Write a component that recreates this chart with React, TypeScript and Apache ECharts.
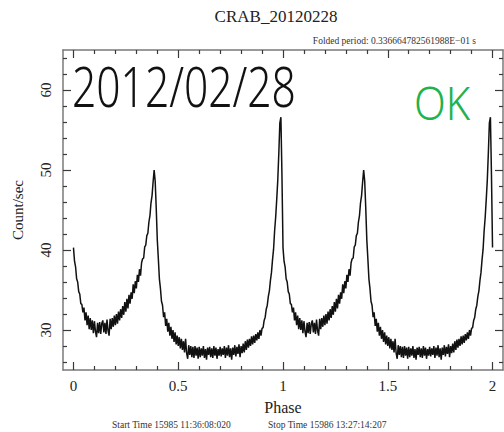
import React, { useEffect, useRef } from "react";
import * as echarts from "echarts";

// Folded light curve (one cycle, 200 phase bins), count/sec
const profile: number[] = [
  40.3, 38.6, 37.9, 36.4, 36.0, 34.8, 34.5, 33.3, 33.2, 32.2,
  32.8, 31.2, 32.2, 30.6, 31.8, 30.1, 31.5, 30.0, 31.2, 29.6,
  31.1, 29.8, 29.1, 30.9, 29.6, 31.0, 29.5, 30.8, 31.2, 29.7,
  30.9, 29.5, 31.3, 29.9, 29.3, 31.4, 30.1, 31.5, 30.4, 31.8,
  30.6, 32.0, 30.8, 32.3, 31.2, 32.6, 31.5, 33.0, 31.9, 33.5,
  32.3, 33.9, 32.7, 34.4, 33.3, 34.7, 33.9, 35.7, 34.6, 36.1,
  35.2, 36.9, 36.0, 37.6, 36.8, 38.4, 38.9, 39.0, 40.4, 40.6,
  41.8, 42.1, 43.5, 44.3, 45.9, 46.8, 48.5, 50.0, 48.6, 45.2,
  41.3, 38.9, 36.4, 35.2, 33.6, 33.1, 31.6, 32.2, 30.5, 31.4,
  29.8, 30.9, 29.3, 30.4, 28.9, 30.0, 28.5, 29.7, 28.2, 29.3,
  28.0, 29.1, 27.7, 28.9, 27.5, 28.6, 27.2, 28.9, 27.1, 26.4,
  28.1, 26.9, 28.0, 26.6, 27.9, 26.5, 28.0, 26.8, 27.8, 26.4,
  27.9, 26.6, 27.7, 26.8, 28.0, 26.5, 27.6, 26.3, 27.8, 26.9,
  27.9, 26.6, 27.7, 26.5, 28.0, 26.8, 27.8, 26.4, 27.6, 26.8,
  27.9, 26.7, 27.7, 26.9, 28.0, 26.5, 27.8, 26.8, 28.1, 26.6,
  27.7, 26.3, 27.8, 26.9, 28.1, 26.7, 27.9, 27.0, 28.2, 26.6,
  28.0, 27.1, 28.3, 27.2, 28.6, 27.5, 28.8, 27.8, 28.9, 28.0,
  29.2, 28.2, 29.3, 28.4, 29.5, 28.7, 29.7, 28.9, 30.0, 29.3,
  30.2, 30.3, 31.2, 31.6, 32.6, 33.1, 34.2, 34.9, 36.2, 37.2,
  38.8, 40.1, 42.4, 44.1, 46.3, 48.7, 52.1, 55.9, 56.6, 49.3,
];
const cycles = 2;

const xMajorTicks = [0, 0.5, 1, 1.5, 2];
const xMinorTicks = [0.1, 0.2, 0.3, 0.4, 0.6, 0.7, 0.8, 0.9, 1.1, 1.2, 1.3, 1.4, 1.6, 1.7, 1.8, 1.9];
const yMajorTicks = [30, 40, 50, 60];
const yMinorTicks = [26, 28, 32, 34, 36, 38, 42, 44, 46, 48, 52, 54, 56, 58, 62, 64];

const titleText = "CRAB_20120228";
const periodText = "Folded period: 0.336664782561988E\u221201 s";
const startText = "Start Time 15985 11:36:08:020";
const stopText = "Stop Time 15986 13:27:14:207";
const dateText = "2012/02/28";
const statusText = "OK";

const SERIF = "'Liberation Serif', 'DejaVu Serif', serif";
const AXIS_COLOR = "#7a7a7a";
const TICK_COLOR = "#3a3a3a";

function xAxisDef(position: string, ticks: number[], len: number, showLine: boolean, showLabel: boolean, name?: string) {
  return {
    type: "value",
    gridIndex: 0,
    position,
    min: -0.05,
    max: 2.05,
    name: name || "",
    nameLocation: "middle",
    nameGap: 29,
    nameTextStyle: { fontFamily: SERIF, fontSize: 16, color: "#222" },
    axisLine: { show: showLine, onZero: false, lineStyle: { color: AXIS_COLOR, width: 1.5 } },
    axisTick: { show: true, inside: true, length: len, customValues: ticks, lineStyle: { color: TICK_COLOR, width: 1.2 } },
    axisLabel: {
      show: showLabel,
      customValues: ticks,
      margin: 8,
      fontFamily: SERIF,
      fontSize: 15,
      color: "#222",
      formatter: (v: number) => String(v),
    },
    splitLine: { show: false },
  };
}

function yAxisDef(position: string, ticks: number[], len: number, showLine: boolean, showLabel: boolean, name?: string) {
  return {
    type: "value",
    gridIndex: 0,
    position,
    min: 25,
    max: 65,
    name: name || "",
    nameLocation: "middle",
    nameGap: 38,
    nameTextStyle: { fontFamily: SERIF, fontSize: 15, color: "#222" },
    axisLine: { show: showLine, onZero: false, lineStyle: { color: AXIS_COLOR, width: 1.5 } },
    axisTick: { show: true, inside: true, length: len, customValues: ticks, lineStyle: { color: TICK_COLOR, width: 1.2 } },
    axisLabel: {
      show: showLabel,
      customValues: ticks,
      rotate: 90,
      margin: 10,
      fontFamily: SERIF,
      fontSize: 15,
      color: "#222",
      formatter: (v: number) => String(v),
    },
    splitLine: { show: false },
  };
}

export default function App() {
  const ref = useRef<HTMLDivElement>(null);

  useEffect(() => {
    if (!ref.current) return;
    const chart = echarts.init(ref.current, null, { renderer: "svg" });

    const data: [number, number][] = [];
    for (let c = 0; c < cycles; c++) {
      for (let i = 0; i < profile.length; i++) {
        data.push([c + i / profile.length, profile[i]]);
      }
    }
    data.push([cycles, profile[0]]);

    chart.setOption({
      animation: false,
      backgroundColor: "#ffffff",
      grid: { left: 63, top: 50, width: 440, height: 320, containLabel: false },
      xAxis: [
        xAxisDef("bottom", xMajorTicks, 8, true, true, "Phase"),
        xAxisDef("bottom", xMinorTicks, 4, false, false),
        xAxisDef("top", xMajorTicks, 8, true, false),
        xAxisDef("top", xMinorTicks, 4, false, false),
      ],
      yAxis: [
        yAxisDef("left", yMajorTicks, 8, true, true, "Count/sec"),
        yAxisDef("left", yMinorTicks, 4, false, false),
        yAxisDef("right", yMajorTicks, 8, true, false),
        yAxisDef("right", yMinorTicks, 4, false, false),
      ],
      series: [
        {
          type: "line",
          xAxisIndex: 0,
          yAxisIndex: 0,
          data,
          showSymbol: false,
          symbol: "none",
          lineStyle: { color: "#111", width: 1.5 },
          z: 3,
        },
      ],
      graphic: [
        {
          type: "text",
          x: 276,
          y: 16,
          style: { text: titleText, font: `17px ${SERIF}`, fill: "#222", textAlign: "center", textVerticalAlign: "middle" },
        },
        {
          type: "text",
          x: 476,
          y: 41,
          style: { text: periodText, font: `9.5px ${SERIF}`, fill: "#333", textAlign: "right", textVerticalAlign: "middle" },
        },
        {
          type: "text",
          x: 112,
          y: 425,
          style: { text: startText, font: `9.5px ${SERIF}`, fill: "#333", textAlign: "left", textVerticalAlign: "middle" },
        },
        {
          type: "text",
          x: 268,
          y: 425,
          style: { text: stopText, font: `9.5px ${SERIF}`, fill: "#333", textAlign: "left", textVerticalAlign: "middle" },
        },
        {
          type: "text",
          x: 72,
          y: 86,
          scaleX: 0.76,
          z: 10,
          style: { text: dateText, font: `300 56px 'Noto Sans', sans-serif`, fill: "#111", textAlign: "left", textVerticalAlign: "middle" },
        },
        {
          type: "text",
          x: 414,
          y: 102,
          scaleX: 0.9,
          z: 10,
          style: { text: statusText, font: `300 46px 'Noto Sans', sans-serif`, fill: "#22b24c", textAlign: "left", textVerticalAlign: "middle" },
        },
      ],
    });

    return () => chart.dispose();
  }, []);

  return <div ref={ref} style={{ width: 504, height: 432, position: "fixed", left: 0, top: 0 }} />;
}
